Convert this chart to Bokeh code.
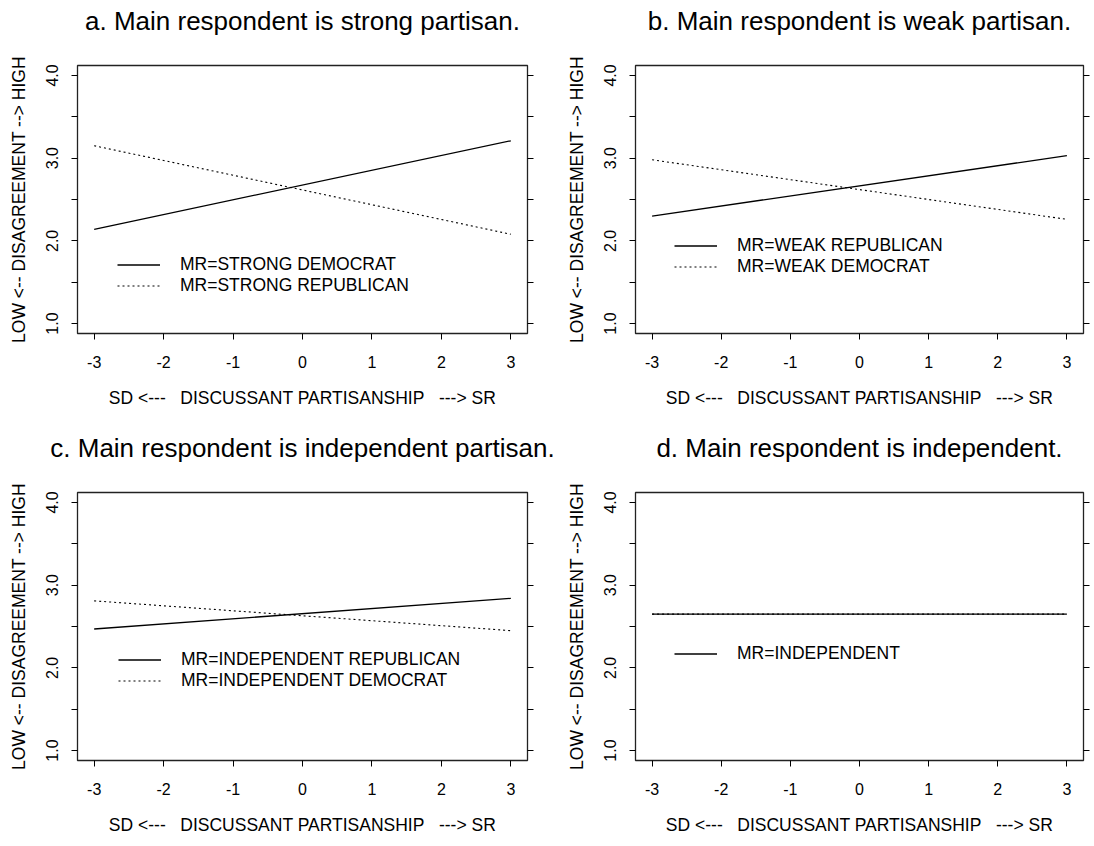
from bokeh.plotting import figure
from bokeh.models import (Range1d, LinearAxis, FixedTicker, Legend, LegendItem,
                          CustomJSTickFormatter, PrintfTickFormatter,
                          CustomLabelingPolicy)
from bokeh.layouts import column, row
from bokeh.embed import file_html
from bokeh.resources import INLINE

# ---------------- data ----------------
x_vals = [-3, 3]
x_ticks = [-3, -2, -1, 0, 1, 2, 3]
y_ticks = [1.0, 1.5, 2.0, 2.5, 3.0, 3.5, 4.0]

titles = ["a. Main respondent is strong partisan.",
          "b. Main respondent is weak partisan.",
          "c. Main respondent is independent partisan.",
          "d. Main respondent is independent."]

a_solid = [2.14, 3.21]          # MR=STRONG DEMOCRAT
a_dotted = [3.15, 2.08]         # MR=STRONG REPUBLICAN
b_solid = [2.30, 3.03]          # MR=WEAK REPUBLICAN
b_dotted = [2.98, 2.26]         # MR=WEAK DEMOCRAT
c_solid = [2.47, 2.84]          # MR=INDEPENDENT REPUBLICAN
c_dotted = [2.81, 2.45]         # MR=INDEPENDENT DEMOCRAT
d_solid = [2.65, 2.65]          # MR=INDEPENDENT
d_dotted = [2.65, 2.65]

a_labels = ["MR=STRONG DEMOCRAT", "MR=STRONG REPUBLICAN"]
b_labels = ["MR=WEAK REPUBLICAN", "MR=WEAK DEMOCRAT"]
c_labels = ["MR=INDEPENDENT REPUBLICAN", "MR=INDEPENDENT DEMOCRAT"]
d_labels = ["MR=INDEPENDENT"]

y_label = "LOW <-- DISAGREEMENT --> HIGH"
x_label = "SD <---\u00a0\u00a0 DISCUSSANT PARTISANSHIP\u00a0\u00a0 ---> SR"

FONT = "Liberation Sans"


def make_panel(title, solid, dotted, labels, leg_loc, width, height,
               bl, br, bt, bb):
    p = figure(width=width, height=height,
               x_range=Range1d(-3.24, 3.24), y_range=Range1d(0.88, 4.12),
               output_backend="svg", toolbar_location=None, tools="",
               min_border_left=bl, min_border_right=br,
               min_border_top=bt, min_border_bottom=bb,
               x_axis_label=x_label, y_axis_label=y_label)
    p.grid.visible = False
    p.outline_line_color = "#222222"
    p.outline_line_width = 1.3
    p.background_fill_color = "white"
    p.border_fill_color = "white"

    # trailing blank line lifts the title away from the frame
    p.title.text = title + "\n"
    p.title.align = "center"
    p.title.text_font = FONT
    p.title.text_font_size = "26px"
    p.title.text_font_style = "normal"
    p.title.text_color = "black"
    p.title.standoff = 0

    xa = p.xaxis[0]
    xa.ticker = FixedTicker(ticks=x_ticks, minor_ticks=[])
    xa.formatter = CustomJSTickFormatter(code="return tick.toFixed(0);")
    ya = p.yaxis[0]
    ya.ticker = FixedTicker(ticks=y_ticks, minor_ticks=[])
    ya.formatter = PrintfTickFormatter(format="%.1f")
    ya.major_label_policy = CustomLabelingPolicy(code="""
        for (const i of indices) {
            if (i % 2 == 1) indices.unset(i)
        }
        return indices
    """)
    ya.major_label_orientation = "vertical"

    for ax in (xa, ya):
        ax.axis_line_color = None
        ax.major_tick_out = 6
        ax.major_tick_in = 0
        ax.major_tick_line_color = "black"
        ax.major_label_text_font = FONT
        ax.major_label_text_font_size = "16px"
        ax.major_label_text_color = "black"
        ax.axis_label_text_font = FONT
        ax.axis_label_text_font_size = "17.5px"
        ax.axis_label_text_font_style = "normal"
        ax.axis_label_text_color = "black"
    xa.major_label_standoff = 16
    xa.axis_label_standoff = 17
    ya.major_label_standoff = 13
    ya.axis_label_standoff = 15

    ra = LinearAxis(ticker=FixedTicker(ticks=y_ticks, minor_ticks=[]),
                    axis_line_color=None, major_tick_out=6, major_tick_in=0,
                    major_tick_line_color="black",
                    major_label_standoff=0, major_label_text_font_size="1px",
                    major_label_policy=CustomLabelingPolicy(code="""
                        for (const i of indices) { indices.unset(i) }
                        return indices
                    """))
    p.add_layout(ra, "right")

    r1 = p.line(x_vals, solid, line_color="black", line_width=1.3)
    r2 = p.line(x_vals, dotted, line_color="black", line_width=1.1,
                line_dash="2 3")
    items = [LegendItem(label=labels[0], renderers=[r1])]
    if len(labels) > 1:
        items.append(LegendItem(label=labels[1], renderers=[r2]))
    leg = Legend(items=items, location=leg_loc, border_line_color=None,
                 background_fill_alpha=0, padding=0, margin=0, spacing=0,
                 glyph_width=43, glyph_height=19, label_height=19,
                 label_standoff=20, label_text_font=FONT,
                 label_text_font_size="17.5px", label_text_color="black")
    p.add_layout(leg)
    return p


pa = make_panel(titles[0], a_solid, a_dotted, a_labels, (40, 37), 558, 427, 77, 31, 65, 94)
pb = make_panel(titles[1], b_solid, b_dotted, b_labels, (39, 56), 535, 427, 77, 8, 65, 94)
pc = make_panel(titles[2], c_solid, c_dotted, c_labels, (41, 69), 558, 413, 77, 31, 65, 80)
pd = make_panel(titles[3], d_solid, d_dotted, d_labels, (39, 96), 535, 413, 77, 8, 65, 80)

layout = column(row(pa, pb), row(pc, pd))
open("out.html", "w").write(file_html(layout, INLINE))
